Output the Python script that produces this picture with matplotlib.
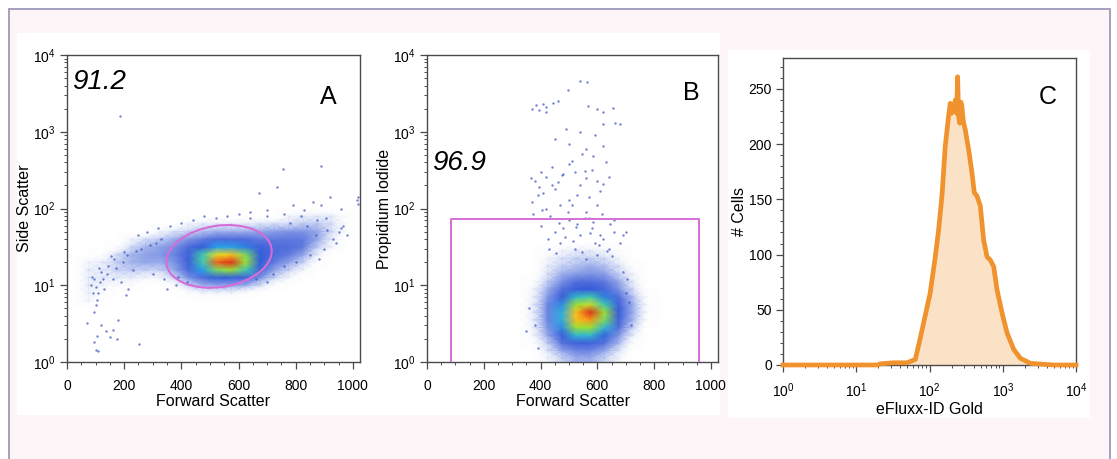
import numpy as np
import matplotlib
matplotlib.use('Agg')
import matplotlib.pyplot as plt
from matplotlib.colors import LinearSegmentedColormap
from matplotlib.patches import Ellipse, Rectangle
from matplotlib.ticker import MultipleLocator, LogLocator, NullFormatter

plt.rcParams['font.family'] = ['Liberation Sans', 'DejaVu Sans']
plt.rcParams['mathtext.fontset'] = 'custom'
plt.rcParams['mathtext.rm'] = 'Liberation Sans'
plt.rcParams['mathtext.default'] = 'regular'

# ---- Panel A: forward vs side scatter (density grid, log10 SSC rows) ----
a_fsc = [25, 75, 125, 175, 225, 275, 325, 375, 425, 475, 525,
         575, 625, 675, 725, 775, 825, 875, 925, 975, 1025]
a_log_ssc = [0.7, 0.8, 0.9, 1.0, 1.1, 1.2, 1.3, 1.4, 1.5, 1.6, 1.7, 1.8, 1.9, 2.0]
a_density = [
    [0, 0, 0, 0, 0, 0, 0, 0, 0, 0, 0, 0, 0, 0, 0, 0, 0, 0, 0, 0, 0],
    [0, .2, 0, 0, 0, 0, 0, 0, 0, 0, 0, 0, 0, 0, 0, 0, 0, 0, 0, 0, 0],
    [0, .25, .1, 0, 0, 0, 0, 0, .1, .2, .2, .2, .1, 0, 0, 0, 0, 0, 0, 0, 0],
    [0, .3, .2, .15, .1, 0, 0, .15, .6, 1, 1.2, 1.2, 1, .5, .1, 0, 0, 0, 0, 0, 0],
    [0, .3, .3, .3, .3, .2, .2, .6, 1.6, 2.5, 3.5, 3.5, 3, 1.6, .6, .2, 0, 0, 0, 0, 0],
    [0, .3, .3, .6, .7, .6, .6, 1.1, 2.6, 4.5, 6.5, 7, 5.5, 3, 1.2, .6, .2, 0, 0, 0, 0],
    [0, .2, .3, .6, .9, 1.1, 1, 1.5, 3, 5.5, 9.5, 10, 7, 3.5, 2, 1.2, .6, .1, 0, 0, 0],
    [0, 0, .1, .5, .9, 1.2, 1.4, 1.8, 3, 5.5, 8, 8.5, 6.5, 3.5, 2.4, 2, 1.2, .3, 0, 0, 0],
    [0, 0, 0, .1, .5, .9, 1.2, 1.6, 2.5, 3.5, 4.5, 4.5, 4, 3, 2.4, 2.4, 2, .7, .2, 0, 0],
    [0, 0, 0, 0, .2, .5, .7, 1, 1.5, 2, 2.5, 2.5, 2.5, 2, 2, 2, 2, 1.1, .3, 0, 0],
    [0, 0, 0, 0, 0, 0, .2, .4, .6, .8, 1, 1, 1, 1.1, 1.3, 1.5, 1.5, 1.1, .5, .1, 0],
    [0, 0, 0, 0, 0, 0, 0, 0, .2, .3, .3, .3, .3, .4, .5, .5, .7, .7, .4, .1, 0],
    [0, 0, 0, 0, 0, 0, 0, 0, 0, 0, 0, 0, 0, 0, 0, .2, .3, .3, .3, .1, 0],
    [0, 0, 0, 0, 0, 0, 0, 0, 0, 0, 0, 0, 0, 0, 0, 0, 0, 0, 0, 0, 0],
]
# sparse events outside the dense cloud
a_dots_fsc = [185, 755, 890, 735, 672, 1018, 1018, 1015, 920, 890, 860, 830, 960,
              965, 950, 905, 875, 790, 700, 640, 600, 560, 520, 480, 440, 400,
              360, 320, 280, 250, 640, 700, 760, 820,
              69, 93, 101, 110, 150, 160, 135, 175, 180, 120, 95, 100, 105, 90,
              110, 100, 115, 125, 95, 85, 130, 140, 160, 205, 215, 190, 170, 253,
              105, 195, 230, 300, 340, 380, 390, 420, 660, 720, 760, 800, 850,
              880, 900, 930, 960, 980, 700, 350, 870, 910, 940, 840, 780,
              145, 165, 210, 240, 260, 290, 310, 330, 120, 88, 112, 155, 200]
a_dots_ssc = [1600, 330, 360, 190, 160, 140, 115, 130, 140, 110, 120, 95, 100,
              60, 50, 75, 70, 110, 95, 90, 85, 80, 75, 80, 70, 65,
              60, 55, 50, 45, 75, 80, 85, 80,
              3.2, 1.8, 1.45, 1.4, 2.1, 2.6, 2.5, 2.0, 3.5, 3.0, 4.5, 5.5, 6.5, 8,
              8, 9.5, 11, 12, 12, 10, 9, 14, 12, 7.5, 9, 11, 17, 1.7,
              2.2, 20, 16, 14, 12, 10, 13, 11, 12, 14, 18, 20, 25,
              22, 30, 40, 55, 45, 11, 9, 45, 52, 35, 60, 65,
              18, 22, 25, 28, 30, 33, 36, 40, 15, 13, 17, 24, 27]

# ---- Panel B: forward scatter vs propidium iodide ----
b_fsc = [275, 325, 375, 425, 475, 525, 575, 625, 675, 725, 775, 825]
b_log_pi = [-0.05, 0.05, 0.15, 0.25, 0.35, 0.45, 0.55, 0.65, 0.75, 0.85,
            0.95, 1.05, 1.15, 1.25, 1.35, 1.45, 1.55]
b_density = [
    [0, 0, 0, .2, .6, 1, 1, .6, .2, 0, 0, 0],
    [0, 0, 0, .2, .6, 1, 1, .6, .2, 0, 0, 0],
    [0, 0, 0, .4, 1.2, 1.8, 1.8, 1.2, .4, 0, 0, 0],
    [0, 0, .1, .7, 2.2, 3, 3, 2.2, .9, .1, 0, 0],
    [0, 0, .2, 1.1, 3.2, 5, 5, 3.6, 1.5, .3, 0, 0],
    [0, 0, .25, 1.5, 4.2, 7, 7, 5, 2.4, .6, 0, 0],
    [0, 0, .3, 1.8, 4.8, 8.5, 9, 6.5, 3, .9, .1, 0],
    [0, 0, .3, 1.8, 4.8, 8.5, 10, 7, 3.3, 1, .15, 0],
    [0, 0, .3, 1.8, 4.2, 7, 7.5, 5.5, 3, 1, .15, 0],
    [0, 0, .25, 1.4, 3.2, 5, 5.5, 4, 2.4, .8, .1, 0],
    [0, 0, .2, 1, 2.2, 3.2, 3.4, 2.7, 1.6, .5, 0, 0],
    [0, 0, .1, .7, 1.6, 2.2, 2.3, 2, 1.1, .3, 0, 0],
    [0, 0, 0, .4, 1, 1.3, 1.5, 1.3, .6, .2, 0, 0],
    [0, 0, 0, .3, .6, .8, 1, .8, .4, .1, 0, 0],
    [0, 0, 0, .2, .4, .6, .6, .5, .2, 0, 0, 0],
    [0, 0, 0, .1, .2, .3, .3, .2, .1, 0, 0, 0],
    [0, 0, 0, 0, 0, 0, 0, 0, 0, 0, 0, 0],
]
b_dots_fsc = [370, 385, 395, 410, 420, 445, 460, 420, 538, 565, 497, 567, 600, 655,
              620, 620, 661, 680, 490, 540, 590, 450, 500, 620, 560,
              365, 380, 400, 420, 440, 460, 480, 500, 520, 540, 560, 580, 600,
              620, 640, 450, 390, 370, 530, 570, 610, 500, 470, 600, 560, 420,
              400, 450, 500, 540, 580, 620, 640, 660, 680, 470, 430, 520, 600,
              560, 690, 700, 390, 380, 360, 700, 710, 510, 545, 585, 630, 410,
              375, 405, 435, 465, 495, 525, 555, 585, 615, 645, 485, 515, 575,
              605, 635, 455, 425, 545, 590, 650, 480, 530, 610, 570, 510, 660,
              440, 395, 350, 720, 705, 690, 555, 475]
b_dots_pi = [2000, 2200, 1900, 2300, 2100, 2400, 2500, 1800, 4600, 4400, 3500, 2150,
             2000, 2050, 1800, 1250, 1300, 1250, 1100, 1000, 900, 800, 700, 650, 600,
             250, 230, 300, 260, 350, 220, 280, 380, 300, 200, 250, 320, 230,
             210, 260, 180, 150, 120, 150, 140, 170, 130, 110, 110, 90, 100,
             60, 50, 70, 45, 55, 40, 30, 50, 35, 35, 30, 30, 25,
             22, 45, 50, 1.5, 3, 5, 8, 6, 420, 520, 480, 400, 160,
             85, 95, 80, 65, 90, 58, 75, 66, 85, 62, 42, 38, 48,
             33, 28, 26, 40, 27, 36, 24, 55, 62, 45, 75, 110, 70,
             200, 190, 2.5, 3, 12, 15, 310, 270]

# ---- Panel C: eFluxx-ID Gold histogram ----
c_signal = [1, 20, 21, 32, 49, 64, 74, 87, 102, 120, 133, 148, 164, 182, 192,
            200, 213, 225, 235, 242, 250, 258, 268, 277, 290, 308, 342, 380,
            409, 445, 494, 549, 610, 678, 753, 836, 979, 1146, 1415, 1746,
            2395, 5000, 10000]
c_cells = [0, 0, 1, 2, 2, 5, 23, 44, 65, 98, 122, 153, 198, 225, 237,
           228, 230, 240, 228, 261, 225, 219, 238, 234, 220, 213, 195, 174,
           156, 153, 144, 113, 98, 95, 89, 68, 47, 29, 14, 6,
           1.5, 0, 0]

W, H = 1117, 459
fig = plt.figure(figsize=(W / 100, H / 100), dpi=100, facecolor='white')

# page background, border and white panel cards
fig.patches.append(Rectangle((9 / W, -0.05), (1110 - 9) / W, 1 - 9 / H + 0.05,
                             transform=fig.transFigure, facecolor='#fdf5f7',
                             edgecolor='#9d99bb', lw=1.3, zorder=-3))
fig.patches.append(Rectangle((17 / W, 1 - 415 / H), (720 - 17) / W, (415 - 33) / H,
                             transform=fig.transFigure, facecolor='white',
                             edgecolor='none', zorder=-2))
fig.patches.append(Rectangle((728 / W, 1 - 418 / H), (1090 - 728) / W, (418 - 50) / H,
                             transform=fig.transFigure, facecolor='white',
                             edgecolor='none', zorder=-2))

cmap = LinearSegmentedColormap.from_list('flow', [
    (0.00, (1, 1, 1, 0)),
    (0.03, (0.80, 0.84, 0.96, 0.45)),
    (0.10, (0.60, 0.67, 0.92, 1)),
    (0.22, (0.33, 0.44, 0.86, 1)),
    (0.34, (0.20, 0.35, 0.85, 1)),
    (0.46, (0.15, 0.65, 0.92, 1)),
    (0.58, (0.30, 0.84, 0.60, 1)),
    (0.70, (0.60, 0.88, 0.22, 1)),
    (0.82, (0.97, 0.86, 0.12, 1)),
    (0.92, (0.96, 0.52, 0.10, 1)),
    (1.00, (0.88, 0.18, 0.10, 1)),
])

spine_col = '#4a4a4a'
gate_col = '#d46ed6'
dot_col = '#3550c0'


def style_axes(ax):
    for sp in ax.spines.values():
        sp.set_color(spine_col)
        sp.set_linewidth(1.0)
    ax.tick_params(which='major', length=5, width=0.9, color=spine_col,
                   labelsize=10, pad=3)
    ax.tick_params(which='minor', length=2.5, width=0.7, color=spine_col)


def scatter_panel(ax, gx, gy_log, dens, dx, dy, ylabel):
    ax.pcolormesh(gx, np.power(10.0, gy_log), dens, shading='gouraud',
                  cmap=cmap, vmin=0, vmax=10, antialiased=False, zorder=1)
    ax.scatter(dx, dy, s=3, color=dot_col, alpha=0.7, linewidths=0, zorder=2)
    ax.set_yscale('log')
    ax.set_xlim(0, 1025)
    ax.set_ylim(1, 1e4)
    ax.xaxis.set_major_locator(MultipleLocator(200))
    ax.xaxis.set_minor_locator(MultipleLocator(50))
    ax.yaxis.set_major_locator(LogLocator(base=10, numticks=10))
    ax.yaxis.set_minor_locator(LogLocator(base=10, subs=np.arange(2, 10), numticks=10))
    ax.yaxis.set_minor_formatter(NullFormatter())
    ax.set_xlabel('Forward Scatter', fontsize=11.5, labelpad=1)
    ax.set_ylabel(ylabel, fontsize=11.5, labelpad=1)
    style_axes(ax)
    ax.tick_params(axis='x', pad=7)


# Panel A
axA = fig.add_axes([67 / W, 1 - 362 / H, 293 / W, 307 / H])
scatter_panel(axA, a_fsc, a_log_ssc, a_density, a_dots_fsc, a_dots_ssc, 'Side Scatter')
axA.add_patch(Ellipse((0.519, 0.344), 0.362, 0.2, angle=8, transform=axA.transAxes,
                      fill=False, edgecolor=gate_col, lw=1.5, zorder=3))
axA.text(0.017, 0.912, '91.2', transform=axA.transAxes, fontsize=20,
         style='italic', ha='left', va='center')
axA.text(0.89, 0.863, 'A', transform=axA.transAxes, fontsize=18,
         ha='center', va='center')

# Panel B
axB = fig.add_axes([427 / W, 1 - 362 / H, 291 / W, 307 / H])
scatter_panel(axB, b_fsc, b_log_pi, b_density, b_dots_fsc, b_dots_pi, 'Propidium Iodide')
axB.plot([84, 84, 959, 959], [1, 72, 72, 1], color=gate_col, lw=1.4, zorder=3)
axB.text(0.017, 0.648, '96.9', transform=axB.transAxes, fontsize=20,
         style='italic', ha='left', va='center')
axB.text(0.91, 0.876, 'B', transform=axB.transAxes, fontsize=18,
         ha='center', va='center')

# Panel C
axC = fig.add_axes([783 / W, 1 - 365 / H, 293 / W, 307 / H])
axC.fill_between(c_signal, c_cells, 0, color='#fbe2c6', lw=0, zorder=1)
axC.plot(c_signal, c_cells, color='#f0932e', lw=3.4, solid_joinstyle='round',
         clip_on=False, zorder=3)
axC.set_xscale('log')
axC.set_xlim(1, 1e4)
axC.set_ylim(0, 278)
axC.xaxis.set_major_locator(LogLocator(base=10, numticks=10))
axC.xaxis.set_minor_locator(LogLocator(base=10, subs=np.arange(2, 10), numticks=10))
axC.xaxis.set_minor_formatter(NullFormatter())
axC.yaxis.set_major_locator(MultipleLocator(50))
axC.yaxis.set_minor_locator(MultipleLocator(10))
axC.set_xlabel('eFluxx-ID Gold', fontsize=11.5, labelpad=1)
axC.set_ylabel('# Cells', fontsize=11.5, labelpad=1)
style_axes(axC)
axC.tick_params(axis='x', pad=7)
axC.text(0.904, 0.873, 'C', transform=axC.transAxes, fontsize=18,
         ha='center', va='center')

fig.savefig('out.png', dpi=100, facecolor=fig.get_facecolor())
